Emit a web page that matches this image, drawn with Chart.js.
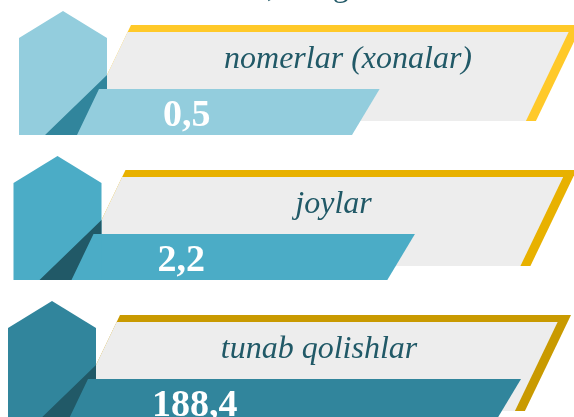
<!DOCTYPE html>
<html>
<head>
<meta charset="utf-8">
<script src="https://cdn.jsdelivr.net/npm/chart.js@4.4.1/dist/chart.umd.min.js"></script>
<style>
  html, body { margin: 0; padding: 0; background: #ffffff; }
  #wrap { width: 574px; height: 417px; position: relative; overflow: hidden; }
</style>
</head>
<body>
<div id="wrap"><canvas id="c" width="574" height="417"></canvas></div>
<script>
// ---- data ----
const categories = ['nomerlar (xonalar)', 'joylar', 'tunab qolishlar'];
const values = [0.5, 2.2, 188.4];
const titleTail = ', ming';

// ---- style ----
const barColors  = ['#93cddd', '#4bacc6', '#31859c'];
const foldColors = ['#31859c', '#215967', '#215967'];
const edgeColors = ['#ffc929', '#e8b100', '#c99a00'];
const panelGrey  = '#ededed';
const textTeal   = '#215967';
const BAR_H = 46;
const SKEW = 5.5;          // each row sits a little further left
const LABEL_SKEW = 14.5;   // labels drift left a bit faster
const SLOPE = 0.48;        // slant of the panels
const BAR_SLANT = 13.8;    // half horizontal run of the bar's slanted end

const fmt = v => String(v).replace('.', ',');

function poly(ctx, pts, color) {
  ctx.beginPath();
  ctx.moveTo(pts[0][0], pts[0][1]);
  for (let k = 1; k < pts.length; k++) ctx.lineTo(pts[k][0], pts[k][1]);
  ctx.closePath();
  ctx.fillStyle = color;
  ctx.fill();
}

const deco = {
  id: 'deco',
  afterDraw(chart) {
    const ctx = chart.ctx;
    const meta = chart.getDatasetMeta(0);
    ctx.save();
    // cut-off heading at the very top
    ctx.font = '32px "Liberation Serif", serif';
    ctx.fillStyle = textTeal;
    ctx.textAlign = 'left';
    ctx.textBaseline = 'alphabetic';
    ctx.fillText(titleTail, 267, -4);

    meta.data.forEach((el, i) => {
      const p = el.getProps(['x', 'y', 'base', 'height'], true);
      const Y = p.y - BAR_H / 2;        // top of the bar
      const sx = -SKEW * i;
      // panel (yellow edge + grey face)
      const tO = Y - 64, tI = Y - 57, b = Y + 32;
      poly(ctx, [[131 + sx, tO], [582 + sx, tO], [582 + sx - SLOPE * (b - tO), b], [131 + sx - SLOPE * (b - tO), b]], edgeColors[i]);
      poly(ctx, [[131 + sx - SLOPE * (tI - tO), tI], [572 + sx - SLOPE * (tI - tO), tI], [572 + sx - SLOPE * (b - tO), b], [131 + sx - SLOPE * (b - tO), b]], panelGrey);
      // value bar (end taken from the log scale)
      const col = barColors[i];
      poly(ctx, [[p.base, Y], [p.x + BAR_SLANT, Y], [p.x - BAR_SLANT, Y + BAR_H], [p.base, Y + BAR_H]], col);
      // house
      const hl = 19 + sx, hr = 107 + sx, hc = 63 + sx;
      poly(ctx, [[hl, Y - 51], [hc, Y - 78], [hr, Y - 51], [hr, Y + BAR_H], [hl, Y + BAR_H]], col);
      // fold
      poly(ctx, [[hr, Y - 14], [hr, Y], [hr - 8, Y], [hr - 30, Y + BAR_H], [hr - 62, Y + BAR_H]], foldColors[i]);
      // category label
      ctx.font = 'italic 32px "Liberation Serif", serif';
      ctx.fillStyle = textTeal;
      ctx.textAlign = 'center';
      ctx.fillText(chart.data.labels[i], 348 - LABEL_SKEW * i, Y - 21);
      // value
      ctx.font = 'bold 38px "Liberation Serif", serif';
      ctx.fillStyle = '#ffffff';
      ctx.textAlign = 'left';
      ctx.fillText(fmt(chart.data.datasets[0].data[i]), 163 + sx, Y + 37);
    });
    ctx.restore();
  }
};

new Chart(document.getElementById('c'), {
  type: 'bar',
  data: {
    labels: categories,
    datasets: [{
      data: values,
      backgroundColor: 'rgba(0,0,0,0)',
      barThickness: BAR_H,
      borderWidth: 0
    }]
  },
  options: {
    indexAxis: 'y',
    responsive: false,
    animation: false,
    devicePixelRatio: 1,
    layout: { padding: { left: 53, right: 27, top: 112, bottom: 15 } },
    scales: {
      x: { type: 'logarithmic', min: 1e-6, max: 1e3, bounds: 'data', display: false },
      y: { type: 'category', offset: false, display: false }
    },
    plugins: { legend: { display: false }, tooltip: { enabled: false }, title: { display: false } }
  },
  plugins: [deco]
});
</script>
</body>
</html>
